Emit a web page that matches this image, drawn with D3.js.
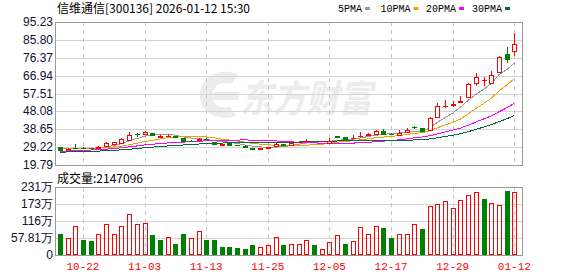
<!DOCTYPE html>
<html><head><meta charset="utf-8">
<script src="https://cdn.jsdelivr.net/npm/d3@7/dist/d3.min.js"></script>
<style>html,body{margin:0;padding:0;background:#fff;}svg{display:block;}</style>
</head><body>
<svg id="chart" width="578" height="276"></svg>
<script>
// ---------- data ----------
const title = "信维通信[300136] 2026-01-12 15:30";
const volumeCaption = "成交量:2147096";
const dates = ["10-17","10-20","10-21","10-22","10-23","10-24","10-27","10-28","10-29","10-30","10-31",
"11-03","11-04","11-05","11-06","11-07","11-10","11-11","11-12","11-13","11-14","11-17","11-18","11-19","11-20","11-21","11-24","11-25","11-26","11-27","11-28",
"12-01","12-02","12-03","12-04","12-05","12-08","12-09","12-10","12-11","12-12","12-15","12-16","12-17","12-18","12-19","12-22","12-23","12-24","12-25","12-26","12-29","12-30","12-31",
"01-05","01-06","01-07","01-08","01-09","01-12"];
const openP = [29.10,28.00,28.95,29.00,28.80,28.60,29.97,31.03,31.56,33.10,
36.00,36.00,36.70,34.60,35.30,35.20,34.10,32.70,33.14,33.60,
32.00,30.45,31.50,30.40,29.97,28.90,28.07,28.70,29.80,31.00,
30.50,31.85,32.20,32.50,32.20,31.50,34.90,34.50,33.80,35.20,
35.40,36.40,37.80,36.30,35.50,37.10,39.70,39.10,38.25,45.27,
50.90,51.70,53.10,55.82,62.89,64.50,62.89,68.70,78.35,79.93];
const highP = [29.30,28.50,30.87,29.20,29.00,29.66,31.93,32.10,34.00,37.30,
36.60,37.90,36.80,35.40,36.00,35.30,34.20,33.00,34.00,33.90,
32.10,30.90,31.60,30.50,30.10,29.00,28.70,29.40,31.90,31.10,
31.50,32.30,33.50,32.70,32.50,33.80,35.30,34.60,35.60,37.20,
36.90,38.00,38.60,36.60,38.20,39.20,40.30,39.50,45.27,52.70,
54.07,53.70,56.20,62.90,68.50,66.37,69.38,77.30,81.88,89.59];
const lowP = [27.75,27.80,28.39,28.50,28.30,28.50,29.80,30.90,31.40,32.90,
34.80,35.90,35.30,34.50,34.70,34.30,32.50,32.20,33.00,33.20,
30.50,30.30,30.40,30.00,29.40,27.90,27.90,28.60,29.70,30.30,
30.40,31.50,32.00,32.00,32.10,31.40,34.30,33.60,33.50,34.90,
35.30,36.30,36.10,35.80,35.40,37.00,39.00,37.60,38.00,44.95,
49.70,50.20,52.30,55.50,61.60,61.62,62.52,68.20,73.76,77.45];
const closeP = [27.90,28.20,28.90,28.70,28.60,29.45,31.56,31.93,33.66,35.80,
35.90,37.40,35.40,35.30,35.35,34.40,32.55,32.60,33.66,33.50,
30.75,30.70,30.50,30.20,29.50,28.00,28.60,29.20,31.00,30.40,
31.30,31.95,32.50,32.20,32.30,32.50,34.70,33.70,33.90,35.35,
36.40,37.80,36.30,36.00,36.50,38.50,39.60,37.80,44.59,50.76,
51.10,51.85,53.30,62.52,66.05,64.65,67.27,76.60,75.71,83.47];
// volume in 万
const volume = [71,57,100,51,47,73,104,70,97,138,
104,110,68,51,60,37,71,57,80,51,
51,27,27,24,20,34,26,33,60,34,
39,39,50,34,20,43,67,37,46,94,
73,97,91,57,73,73,104,88,168,175,
182,161,188,205,215,190,178,171,217,214.7096];
// closes before the first visible day (estimated), used only to start the moving averages
const priorCloses = [25.0,25.3,25.8,25.6,25.2,25.4,25.9,26.0,25.7,25.5,
25.3,25.1,25.6,25.9,26.2,25.8,25.4,25.7,25.9,26.3,
27.0,27.6,28.2,28.5,28.7,29.3,29.0,28.8,29.0];
const priceTicks = [19.79,29.22,38.65,48.08,57.51,66.94,76.37,85.80,95.23];
const priceTickLabels = ["19.79","29.22","38.65","48.08","57.51","66.94","76.37","85.80","95.23"];
const volTicks = [0,57.81,115.62,173.43,231.24];
const volTickLabels = ["0","57.81万","116万","173万","231万"];
const dateTicks = ["10-22","11-03","11-13","11-25","12-05","12-17","12-29","01-12"];
const maPeriods = [5,10,20,30];
const maNames = ["5PMA","10PMA","20PMA","30PMA"];

// ---------- styles ----------
const RED = "#ff0000", GREEN = "#008000";
const maColors = ["#999999","#f0a000","#ff00ff","#006e32"];
const L = 56, R = 522, PT = 22, PB = 165, VT = 187, VB = 255;

const svg = d3.select("#chart");
const x = d3.scaleBand().domain(dates).range([L, 518.2]);
const xc = d => x(d) + x.bandwidth() / 2;
const yP = d3.scaleLinear().domain([priceTicks[0], priceTicks[priceTicks.length-1]]).range([PB, PT]);
const yV = d3.scaleLinear().domain([0, volTicks[volTicks.length-1]]).range([VB, VT]);
const px = v => Math.round(v) + 0.5;

// watermark
const wm = svg.append("g").attr("fill", "#ececec");
wm.append("path").attr("d", "M200,96 C200,80 214,70 230,72 L238,74 L232,84 C222,80 212,86 212,96 C212,104 220,110 230,106 L236,116 C218,122 200,112 200,96 Z");
wm.append("path").attr("d", "M214,92 L240,92 L238,100 L212,100 Z");
wm.append("text").attr("x", 240).attr("y", 112).attr("font-family", "Noto Sans CJK SC")
  .attr("font-weight", "bold").attr("font-style", "italic").attr("font-size", 38)
  .attr("textLength", 132).attr("lengthAdjust", "spacingAndGlyphs").text("东方财富");

// grid
const grid = svg.append("g").attr("shape-rendering", "crispEdges");
priceTicks.forEach(t => grid.append("line").attr("x1", L).attr("x2", R)
  .attr("y1", px(yP(t))).attr("y2", px(yP(t))).attr("stroke", "#d4d4d4"));
volTicks.forEach(t => grid.append("line").attr("x1", L).attr("x2", R)
  .attr("y1", px(yV(t))).attr("y2", px(yV(t))).attr("stroke", "#d4d4d4"));
dateTicks.forEach(d => {
  [[PT, PB], [VT, VB]].forEach(([a, b]) => grid.append("line")
    .attr("x1", px(xc(d))).attr("x2", px(xc(d))).attr("y1", a).attr("y2", b)
    .attr("stroke", "#c8c8c8").attr("stroke-dasharray", "4,4"));
});

// frames
const fr = svg.append("g").attr("shape-rendering", "crispEdges").attr("fill", "none").attr("stroke", "#999");
fr.append("rect").attr("x", L - 0.5).attr("y", PT + 0.5).attr("width", R - L + 1).attr("height", PB - PT);
fr.append("rect").attr("x", L - 0.5).attr("y", VT + 0.5).attr("width", R - L + 1).attr("height", VB - VT);

// moving averages
const allCloses = priorCloses.concat(closeP);
const off = priorCloses.length;
svg.append("clipPath").attr("id", "pclip").append("rect").attr("x", L).attr("y", PT).attr("width", R - L).attr("height", PB - PT);
const maG = svg.append("g").attr("clip-path", "url(#pclip)");
maPeriods.forEach((n, k) => {
  const vals = dates.map((d, i) => d3.mean(allCloses.slice(off + i - n + 1, off + i + 1)));
  maG.append("path").datum(vals)
    .attr("d", d3.line().x((v, i) => xc(dates[i])).y(v => yP(v)))
    .attr("fill", "none").attr("stroke", maColors[k]).attr("stroke-width", 1)
    .attr("shape-rendering", "crispEdges");
});

// candles
const cg = svg.append("g").attr("shape-rendering", "crispEdges");
dates.forEach((d, i) => {
  const o = openP[i], c = closeP[i], h = highP[i], l = lowP[i];
  const up = c >= o;
  const col = up ? RED : GREEN;
  const cx = Math.round(xc(d));
  const yt = Math.round(yP(Math.max(o, c))), yb = Math.round(yP(Math.min(o, c)));
  const yh = yP(h), yl = yP(l);
  cg.append("line").attr("x1", cx + 0.5).attr("x2", cx + 0.5).attr("y1", yh).attr("y2", yt).attr("stroke", col);
  cg.append("line").attr("x1", cx + 0.5).attr("x2", cx + 0.5).attr("y1", yb).attr("y2", yl).attr("stroke", col);
  if (yb - yt <= 1) {
    cg.append("rect").attr("x", cx - 2).attr("y", yt).attr("width", 5).attr("height", Math.max(1, yb - yt + 1)).attr("fill", col);
  } else if (up) {
    cg.append("rect").attr("x", cx - 1.5).attr("y", yt + 0.5).attr("width", 4).attr("height", yb - yt - 1 > 0 ? yb - yt : 1)
      .attr("fill", "#fff").attr("stroke", col);
  } else {
    cg.append("rect").attr("x", cx - 2).attr("y", yt).attr("width", 5).attr("height", yb - yt + 1).attr("fill", col);
  }
});

// volume bars
const vg = svg.append("g").attr("shape-rendering", "crispEdges");
dates.forEach((d, i) => {
  const prev = i === 0 ? priorCloses[priorCloses.length-1] : closeP[i-1];
  const up = closeP[i] >= prev;
  const cx = Math.round(xc(d));
  const yt = Math.round(yV(volume[i]));
  if (up) {
    vg.append("rect").attr("x", cx - 1.5).attr("y", yt + 0.5).attr("width", 4).attr("height", VB - yt - 1)
      .attr("fill", "none").attr("stroke", RED);
  } else {
    vg.append("rect").attr("x", cx - 2).attr("y", yt).attr("width", 5).attr("height", VB - yt).attr("fill", GREEN);
  }
});

// axis labels
const lab = svg.append("g").attr("font-family", "Liberation Sans, Arial, sans-serif").attr("font-size", 12)
  .attr("fill", "#101030").attr("text-anchor", "end");
priceTicks.forEach((t, k) => lab.append("text").attr("x", 53).attr("y", yP(t) + 4).text(priceTickLabels[k]));
volTicks.forEach((t, k) => lab.append("text").attr("x", 53).attr("y", yV(t) + 4).text(volTickLabels[k]));

const xl = svg.append("g").attr("font-family", "Liberation Mono, monospace").attr("font-size", 11)
  .attr("fill", "#ff0000").attr("text-anchor", "middle");
dateTicks.forEach(d => xl.append("text").attr("x", xc(d)).attr("y", 270).text(d));

// title & caption
svg.append("text").attr("x", 57).attr("y", 13).attr("font-family", "Noto Sans CJK SC").attr("font-size", 12)
  .attr("fill", "#000").text(title);
svg.append("text").attr("x", 57).attr("y", 183).attr("font-family", "Noto Sans CJK SC").attr("font-size", 12)
  .attr("fill", "#000").text(volumeCaption);

// legend
const legX = [338, 380.5, 426, 472];
const lg = svg.append("g").attr("font-family", "Liberation Mono, monospace").attr("font-size", 10).attr("fill", "#000");
maNames.forEach((nm, k) => {
  const t = lg.append("text").attr("x", legX[k]).attr("y", 12).text(nm);
  const w = t.node().getComputedTextLength();
  lg.append("rect").attr("x", legX[k] + w + 3).attr("y", 7).attr("width", 5).attr("height", 3).attr("fill", maColors[k]);
});
</script>
</body></html>
